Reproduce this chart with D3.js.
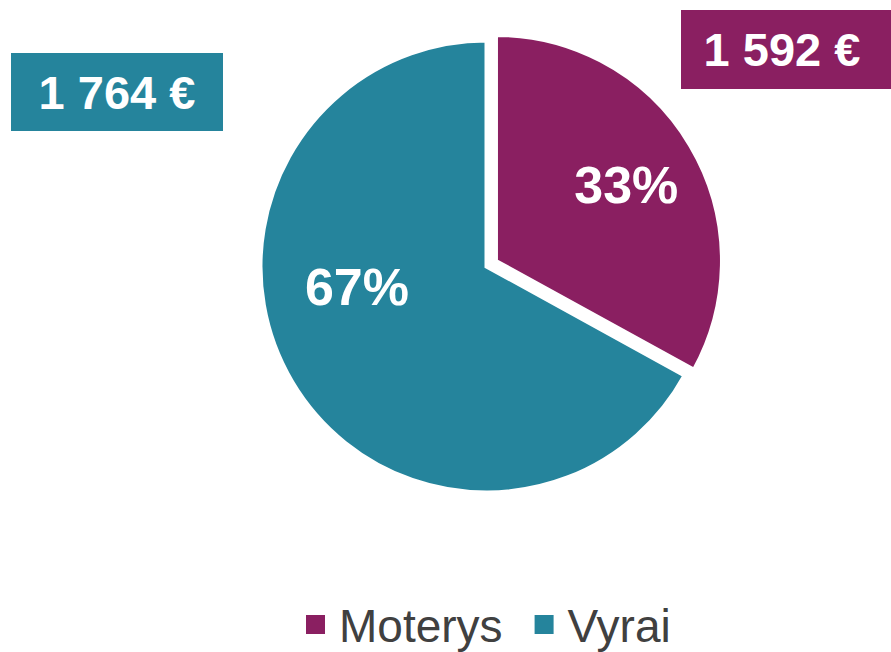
<!DOCTYPE html>
<html lang="lt">
<head>
<meta charset="UTF-8">
<title>Moterys ir vyrai</title>
<style>
  html, body { margin: 0; background: #fff; }
  text { font-family: "Liberation Sans", Arial, sans-serif; }
</style>
</head>
<body>
<svg id="chart" width="891" height="652" viewBox="0 0 891 652"></svg>
<script src="https://d3js.org/d3.v7.min.js"></script>
<script>
// data
const categories = ["Moterys", "Vyrai"];
const shares = [33, 67];
const amounts = ["1 592 €", "1 764 €"];
const colors = ["#8A1F61", "#25849C"];

const svg = d3.select("#chart"),
    width = +svg.attr("width"),
    height = +svg.attr("height");

const cx = 486.5, cy = 266.5, radius = 226;

const pie = d3.pie().sort(null).value(d => d.share);
const arc = d3.arc().innerRadius(0).outerRadius(radius);

const data = categories.map((c, i) => ({ name: c, share: shares[i], amount: amounts[i], color: colors[i] }));
const arcs = pie(data);

// the first slice (Moterys) is pulled out a bit
const explode = [11, 0];
// label placement inside slices: [angle offset (rad), fraction of radius]
const labelPos = [[0, 0.67], [0.38, 0.58]];

const g = svg.append("g").attr("transform", "translate(" + cx + "," + cy + ")");

const slice = g.selectAll("g.slice")
  .data(arcs)
  .enter().append("g")
    .attr("class", "slice")
    .attr("transform", (d, i) => {
      const a = (d.startAngle + d.endAngle) / 2;
      return "translate(" + (Math.sin(a) * explode[i]) + "," + (-Math.cos(a) * explode[i]) + ")";
    });

slice.append("path")
  .attr("d", arc)
  .attr("fill", d => d.data.color)
  .attr("stroke", "#fff")
  .attr("stroke-width", 4)
  .attr("stroke-linejoin", "miter");

slice.append("text")
  .attr("transform", (d, i) => {
    const a = (d.startAngle + d.endAngle) / 2 + labelPos[i][0];
    const r = radius * labelPos[i][1];
    return "translate(" + (Math.sin(a) * r) + "," + (-Math.cos(a) * r) + ")";
  })
  .attr("text-anchor", "middle")
  .attr("dy", "0.36em")
  .attr("fill", "#fff")
  .attr("font-weight", "bold")
  .attr("font-size", 52)
  .text(d => d.data.share + "%");

// value boxes in the corners
const boxes = [
  { x: 681, y: 10, w: 210, h: 79, tx: 101 },
  { x: 11, y: 53, w: 212, h: 78, tx: 106 }
];

const box = svg.selectAll("g.box")
  .data(data)
  .enter().append("g")
    .attr("class", "box")
    .attr("transform", (d, i) => "translate(" + boxes[i].x + "," + boxes[i].y + ")");

box.append("rect")
  .attr("width", (d, i) => boxes[i].w)
  .attr("height", (d, i) => boxes[i].h)
  .attr("fill", d => d.color);

box.append("text")
  .attr("x", (d, i) => boxes[i].tx)
  .attr("y", (d, i) => boxes[i].h / 2)
  .attr("dy", "0.36em")
  .attr("text-anchor", "middle")
  .attr("fill", "#fff")
  .attr("font-weight", "bold")
  .attr("font-size", 47)
  .text(d => d.amount);

// legend
const legend = svg.append("g").attr("transform", "translate(0,642)");
let lx = 306;
data.forEach(d => {
  legend.append("rect")
    .attr("x", lx).attr("y", -27)
    .attr("width", 19).attr("height", 19)
    .attr("fill", d.color);
  const t = legend.append("text")
    .attr("x", lx + 33)
    .attr("fill", "#404040")
    .attr("font-size", 46)
    .text(d.name);
  lx += 33 + t.node().getComputedTextLength() + 32;
});
</script>
</body>
</html>
